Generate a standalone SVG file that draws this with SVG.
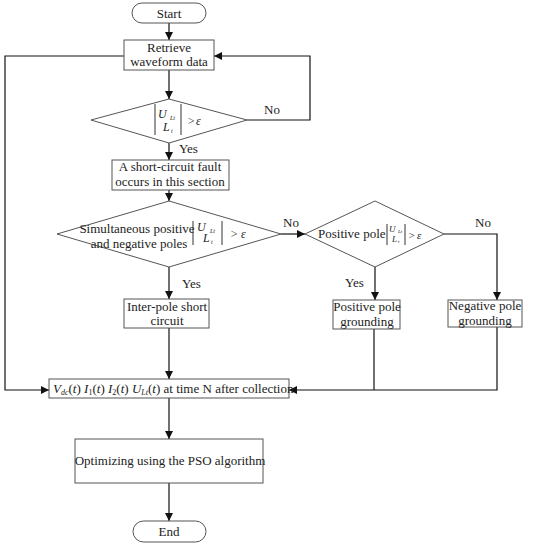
<svg xmlns="http://www.w3.org/2000/svg" width="550" height="545" viewBox="0 0 550 545">
<style>
.s{fill:#fff;stroke:#555;stroke-width:1}
.c{fill:none;stroke:#111;stroke-width:1.2}
.t{font-family:"Liberation Serif","Times New Roman",serif;font-size:13px;fill:#222;text-anchor:middle}
.l{font-family:"Liberation Serif","Times New Roman",serif;font-size:13px;fill:#222}
.m{font-family:"Liberation Serif","Times New Roman",serif;font-style:italic;fill:#222}
.b{stroke:#333;stroke-width:1;fill:none}
</style>
<defs>
<marker id="a" viewBox="0 0 10 10" refX="10" refY="5" markerWidth="8" markerHeight="8" markerUnits="userSpaceOnUse" orient="auto"><path d="M0,0 L10,5 L0,10 z" fill="#111"/></marker>
</defs>
<rect width="550" height="545" fill="#fff"/>
<g id="connectors">
<line class="c" x1="169" y1="23" x2="169" y2="40" marker-end="url(#a)"/>
<line class="c" x1="169" y1="70" x2="169" y2="99" marker-end="url(#a)"/>
<polyline class="c" points="247,120 310,120 310,56 214,56" marker-end="url(#a)"/>
<line class="c" x1="169" y1="143" x2="169" y2="160" marker-end="url(#a)"/>
<line class="c" x1="169" y1="190" x2="169" y2="201" marker-end="url(#a)"/>
<line class="c" x1="281" y1="234" x2="305" y2="234" marker-end="url(#a)"/>
<line class="c" x1="169" y1="267" x2="169" y2="299" marker-end="url(#a)"/>
<line class="c" x1="375" y1="267" x2="375" y2="300" marker-end="url(#a)"/>
<polyline class="c" points="444,234 497,234 497,300" marker-end="url(#a)"/>
<line class="c" x1="169" y1="328" x2="169" y2="379" marker-end="url(#a)"/>
<polyline class="c" points="124,56 5,56 5,390 49,390" marker-end="url(#a)"/>
<line class="c" x1="374" y1="329" x2="374" y2="390"/>
<polyline class="c" points="497,326 497,390 289,390" marker-end="url(#a)"/>
<line class="c" x1="169" y1="398" x2="169" y2="439" marker-end="url(#a)"/>
<line class="c" x1="169" y1="483" x2="169" y2="521" marker-end="url(#a)"/>
<text class="l" x="264" y="114">No</text>
<text class="l" x="179" y="153">Yes</text>
<text class="l" x="283" y="227">No</text>
<text class="l" x="182" y="288">Yes</text>
<text class="l" x="345" y="287">Yes</text>
<text class="l" x="475" y="227">No</text>
</g>
<g id="start">
<rect class="s" x="132" y="3" width="74" height="20" rx="10"/>
<text class="t" x="169" y="17.5">Start</text>
</g>
<g id="retrieve">
<rect class="s" x="124" y="40" width="90" height="30"/>
<text class="t" x="169" y="52">Retrieve</text>
<text class="t" x="169" y="66">waveform data</text>
</g>
<g id="decision1">
<polygon class="s" points="169,99 247,120 169,143 91,120"/>
<line class="b" x1="155" y1="104" x2="155" y2="135"/>
<line class="b" x1="181" y1="104" x2="181" y2="135"/>
<text class="m" x="158" y="118" font-size="12">U</text>
<text class="m" x="170" y="120" font-size="6">Lt</text>
<text class="m" x="163" y="131" font-size="12">L</text>
<text class="m" x="171" y="133" font-size="6">t</text>
<text class="m" x="187" y="125" font-size="12">&gt;</text>
<text class="m" x="196" y="125" font-size="12">ε</text>
</g>
<g id="fault">
<rect class="s" x="112" y="160" width="117" height="30"/>
<text class="t" x="170" y="171">A short-circuit fault</text>
<text class="t" x="170" y="186">occurs in this section</text>
</g>
<g id="decision2">
<polygon class="s" points="169,201 281,234 169,267 57,234"/>
<text class="t" x="137" y="233">Simultaneous positive</text>
<text class="t" x="139" y="248">and negative poles</text>
<line class="b" x1="193" y1="221" x2="193" y2="245"/>
<line class="b" x1="222" y1="221" x2="222" y2="245"/>
<text class="m" x="197" y="231" font-size="12">U</text>
<text class="m" x="210" y="233" font-size="6">Lt</text>
<text class="m" x="203" y="242" font-size="12">L</text>
<text class="m" x="211" y="244" font-size="6">t</text>
<text class="m" x="230" y="238" font-size="12">&gt;</text>
<text class="m" x="241" y="238" font-size="12">ε</text>
</g>
<g id="decision3">
<polygon class="s" points="375,201 444,234 375,267 305,234"/>
<text class="l" x="318" y="238">Positive pole</text>
<line class="b" x1="387" y1="224" x2="387" y2="245"/>
<line class="b" x1="405" y1="224" x2="405" y2="245"/>
<text class="m" x="389" y="232" font-size="9">U</text>
<text class="m" x="398" y="233" font-size="5">Lt</text>
<text class="m" x="392" y="242" font-size="9">L</text>
<text class="m" x="398" y="243" font-size="5">t</text>
<text class="m" x="408" y="239" font-size="11">&gt;</text>
<text class="m" x="417" y="239" font-size="11">ε</text>
</g>
<g id="interpole">
<rect class="s" x="124" y="299" width="85" height="29"/>
<text class="t" x="167" y="311">Inter-pole short</text>
<text class="t" x="167" y="325">circuit</text>
</g>
<g id="positive">
<rect class="s" x="333" y="300" width="67" height="29"/>
<text class="t" x="367" y="311">Positive pole</text>
<text class="t" x="367" y="326">grounding</text>
</g>
<g id="negative">
<rect class="s" x="448" y="300" width="74" height="27"/>
<text class="t" x="485" y="310">Negative pole</text>
<text class="t" x="485" y="325">grounding</text>
</g>
<g id="collection">
<rect class="s" x="49" y="379" width="240" height="19"/>
<text class="l" x="53" y="393"><tspan class="m">V</tspan><tspan class="m" font-size="8" dy="2">dc</tspan><tspan dy="-2">(</tspan><tspan class="m">t</tspan>)  <tspan class="m">I</tspan><tspan font-size="8" dy="2">1</tspan><tspan dy="-2">(</tspan><tspan class="m">t</tspan>)  <tspan class="m">I</tspan><tspan font-size="8" dy="2">2</tspan><tspan dy="-2">(</tspan><tspan class="m">t</tspan>) <tspan class="m">U</tspan><tspan class="m" font-size="8" dy="2">Lt</tspan><tspan dy="-2">(</tspan><tspan class="m">t</tspan>) at time N after collection</text>
</g>
<g id="optimize">
<rect class="s" x="75" y="439" width="188" height="44"/>
<text class="t" x="170" y="465">Optimizing using the PSO algorithm</text>
</g>
<g id="end">
<rect class="s" x="133" y="521" width="73" height="21" rx="10.5"/>
<text class="t" x="169" y="536">End</text>
</g>
</svg>
